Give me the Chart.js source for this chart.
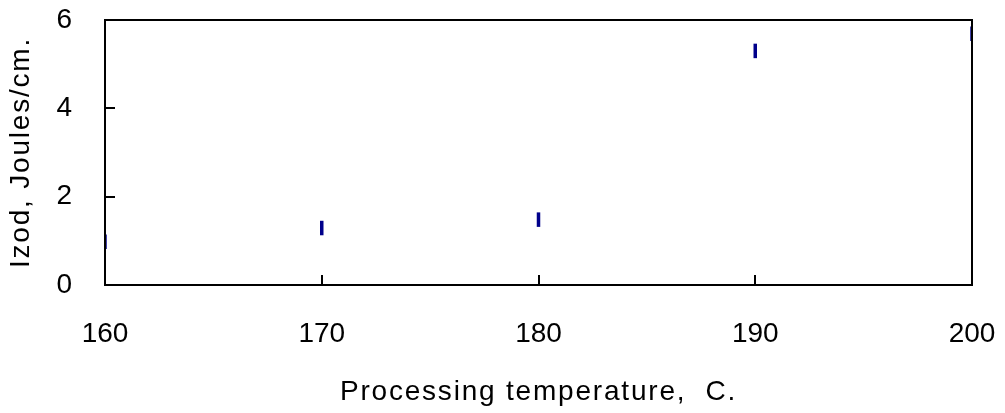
<!DOCTYPE html>
<html>
<head>
<meta charset="utf-8">
<script src="https://cdn.jsdelivr.net/npm/chart.js@4/dist/chart.umd.min.js"></script>
<style>
  html, body { margin: 0; padding: 0; background: #fff; }
  #wrap { width: 1005px; height: 413px; }
</style>
</head>
<body>
<div id="wrap"><canvas id="izodChart"></canvas></div>
<script>
// Izod impact strength vs processing temperature
const temperatures = [160, 170, 180, 190, 200];
const izodValues = [0.98, 1.29, 1.48, 5.30, 5.69];
const xTicks = [160, 170, 180, 190, 200];
const yTicks = [0, 2, 4, 6];

const FONT = "'Liberation Sans', Arial, sans-serif";

// axis titles are set a little looser than the tick numbers
const spacedTitle = s => {
    if (s._spaced) return;
    s._spaced = true;
    const orig = s.drawTitle;
    s.drawTitle = function () {
        const c = this.ctx;
        c.save();
        c.letterSpacing = '1.8px';
        orig.call(this);
        c.restore();
    };
};

// frame around the plot area plus short inward tick marks
const frameAndTicks = {
    id: 'frameAndTicks',
    afterDraw(chart) {
        const { ctx, chartArea: a, scales } = chart;
        ctx.save();
        ctx.strokeStyle = '#000';
        ctx.lineWidth = 2;
        ctx.strokeRect(a.left, a.top, a.right - a.left, a.bottom - a.top);
        ctx.beginPath();
        xTicks.forEach(v => {
            const px = Math.round(scales.x.getPixelForValue(v));
            ctx.moveTo(px, a.bottom);
            ctx.lineTo(px, a.bottom - 10);
        });
        yTicks.forEach(v => {
            const py = Math.round(scales.y.getPixelForValue(v));
            ctx.moveTo(a.left, py);
            ctx.lineTo(a.left + 10, py);
        });
        ctx.stroke();
        ctx.restore();
    }
};

const ctx = document.getElementById('izodChart').getContext('2d');
new Chart(ctx, {
    type: 'scatter',
    data: {
        datasets: [{
            data: temperatures.map((t, i) => ({ x: t, y: izodValues[i] })),
            pointStyle: 'line',
            rotation: 90,
            radius: 7.25,
            hoverRadius: 7.25,
            borderWidth: 3.5,
            borderColor: '#00008b',
            backgroundColor: '#00008b'
        }]
    },
    options: {
        responsive: true,
        maintainAspectRatio: false,
        animation: false,
        layout: { autoPadding: false, padding: 0 },
        plugins: { legend: { display: false }, tooltip: { enabled: false } },
        scales: {
            x: {
                type: 'linear',
                min: 160,
                max: 200,
                afterBuildTicks: s => { s.ticks = xTicks.map(v => ({ value: v })); },
                afterFit: s => {
                    s.height = 128;
                    s.paddingLeft = 0;
                    s.paddingRight = 33;
                    spacedTitle(s);
                },
                grid: { display: false },
                border: { display: false },
                ticks: { color: '#000', font: { family: FONT, size: 28 }, padding: 24, maxRotation: 0 },
                title: {
                    display: true,
                    text: 'Processing temperature,  C.',
                    color: '#000',
                    font: { family: FONT, size: 28 },
                    padding: { top: 20, bottom: 4 }
                }
            },
            y: {
                min: 0,
                max: 6,
                afterBuildTicks: s => { s.ticks = yTicks.map(v => ({ value: v })); },
                afterFit: s => {
                    s.width = 105;
                    s.paddingTop = 20;
                    s.paddingBottom = 0;
                    spacedTitle(s);
                },
                grid: { display: false },
                border: { display: false },
                ticks: { color: '#000', font: { family: FONT, size: 28 }, padding: 25 },
                title: {
                    display: true,
                    text: 'Izod, Joules/cm.',
                    color: '#000',
                    font: { family: FONT, size: 28 },
                    padding: { top: 4, bottom: 0 }
                }
            }
        }
    },
    plugins: [frameAndTicks]
});
</script>
</body>
</html>
